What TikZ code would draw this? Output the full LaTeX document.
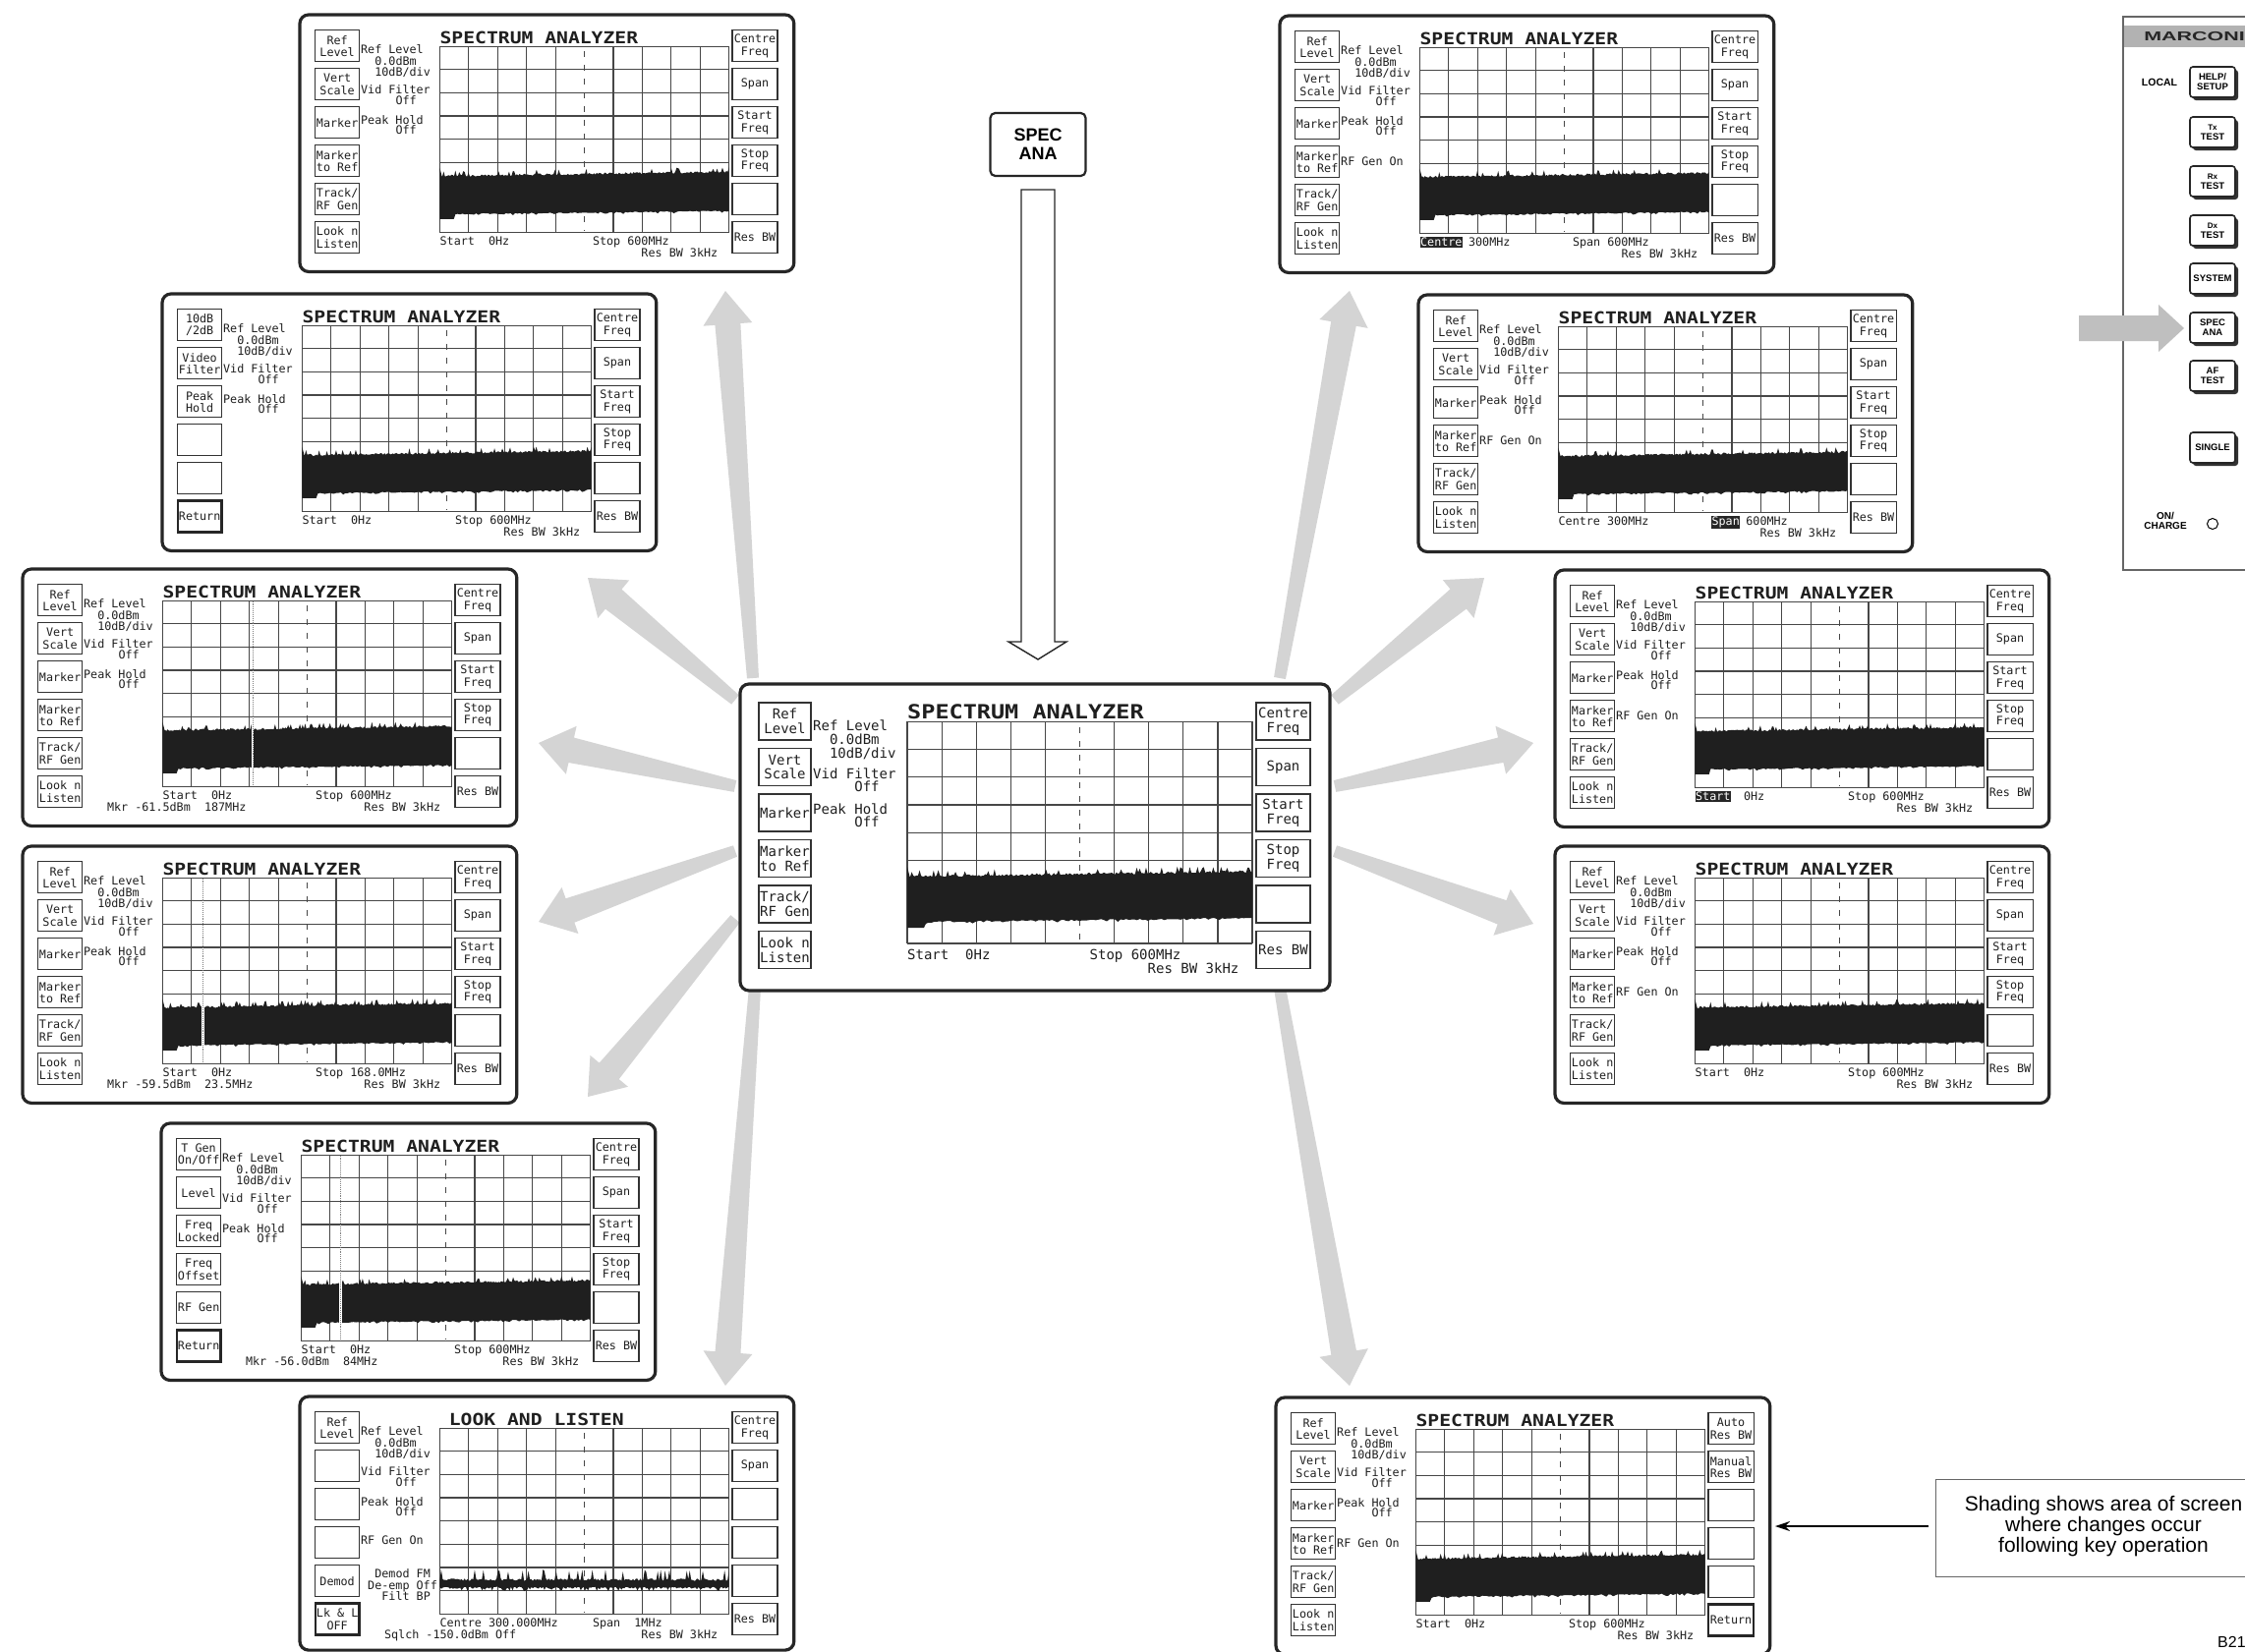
\documentclass[tikz,border=0pt]{standalone}
\usepackage{fontspec}
\setmainfont{Liberation Sans}
\newfontfamily\lcdfont{DejaVu Sans Mono}
\usetikzlibrary{arrows.meta,calc}
\tikzset{
  scr/.style 2 args={shift={#1}, scale=#2, every node/.append style={transform shape}},
  scrframe/.style={line width=3.2pt, rounded corners=9pt, draw=black!85, fill=white},
  keybox/.style={line width=1.1pt, draw=black!80},
  thickkey/.style={line width=2.6pt, draw=black!85},
  gridl/.style={line width=1.2pt, draw=black!72},
  kt/.style={font=\lcdfont\fontsize{14}{14.6}\selectfont, align=center, inner sep=0pt, text=black!88},
  lt/.style={font=\lcdfont\fontsize{14}{14}\selectfont, anchor=base west, inner sep=0pt, text=black!88},
  hl/.style={lt, fill=black!85, text=white, inner xsep=0.6pt, inner ysep=1.6pt},
  tt/.style={font=\lcdfont\bfseries\fontsize{23.5}{23.5}\selectfont, anchor=base west, inner sep=0pt, yscale=0.85, text=black!88},
  gfill/.style={fill=black!17},
  pbtn/.style={draw=black!85, line width=1.6pt, fill=white, rounded corners=3pt},
  pshadow/.style={fill=black!80, rounded corners=3pt},
  btxt/.style={font=\bfseries\fontsize{9.5}{10}\selectfont, align=center, inner sep=0pt},
}
\def\scrH{312}
\newcommand\scrbase{%
  \draw[scrframe] (0,0) rectangle (600,\scrH);
  \foreach \i in {0,...,5}{%
    \draw[keybox] (19,{19+46.5*\i}) rectangle (72,{57+46.5*\i});
    \draw[keybox] (525,{19+46.5*\i}) rectangle (580,{57+46.5*\i});
  }%
  \foreach \i in {0,1,2,3,4,6,7,8,9,10}{%
    \draw[gridl] ({170+35.1*\i},38.4) -- ({170+35.1*\i},264);}%
  \foreach \j in {0,...,8}{%
    \draw[gridl] (170,{38.4+28.2*\j}) -- (521,{38.4+28.2*\j});}%
  \draw[gridl, dash pattern=on 6pt off 8pt] (345.5,44) -- (345.5,262);
}
\newcommand\noiseband{%
  \fill[black!88] (170,248) -- (170,186) -- (172.5,196) -- plot[domain=173:521, samples=220, variable=\t] (\t,{197-5*(\t-170)/351-2.5*rnd-5*(rnd>0.9)}) -- plot[domain=521:189, samples=120, variable=\t] (\t,{241.5-4*(\t-170)/351+1.5*rnd+1.5*(rnd>0.85)}) -- (187,248) -- cycle;}
\newcommand\lltrace{%
  \fill[black!88] plot[domain=170:521, samples=200, variable=\t] (\t,{224-3*rnd-11*(rnd>0.82)}) -- plot[domain=521:170, samples=200, variable=\t] (\t,{231+2.5*rnd+3*(rnd>0.85)}) -- cycle;}
\newcommand\mkr[1]{%
  \draw[white, line width=2.5pt] (#1,186) -- (#1,250);
  \draw[black!50, line width=0.9pt, densely dotted] (#1,39) -- (#1,263);}
\newcommand\lk[2]{\node[kt] at (45.5,{38+46.5*#1}) {#2};}
\newcommand\rk[2]{\node[kt] at (552.5,{38+46.5*#1}) {#2};}
\newcommand\thkl[1]{\draw[thickkey] (19,{19+46.5*#1}) rectangle (72,{57+46.5*#1});}
\newcommand\thkr[1]{\draw[thickkey] (525,{19+46.5*#1}) rectangle (580,{57+46.5*#1});}
\newcommand\lb[3]{\node[lt] at ({74+8.43*#1},#2) {#3};}
\newcommand\bt[3]{\node[lt] at ({170+8.43*#1},#2) {#3};}
\newcommand\hbt[3]{\node[hl] at ({170+8.43*#1},#2) {#3};}
\newcommand\ttl[2][170]{\node[tt] at (#1,35) {#2};}
\newcommand\stdleft{\lk{0}{Ref\\Level}\lk{1}{Vert\\Scale}\lk{2}{Marker}\lk{3}{Marker\\to Ref}\lk{4}{Track/\\RF Gen}\lk{5}{Look n\\Listen}}
\newcommand\stdright{\rk{0}{Centre\\Freq}\rk{1}{Span}\rk{2}{Start\\Freq}\rk{3}{Stop\\Freq}\rk{5}{Res BW}}
\newcommand\stdlabels{\lb{0}{47}{Ref Level}\lb{2}{61}{0.0dBm}\lb{2}{75}{10dB/div}\lb{0}{96.5}{Vid Filter}\lb{5}{109.5}{Off}\lb{0}{132.5}{Peak Hold}\lb{5}{145.5}{Off}}
\newcommand\rfgen{\lb{0}{182.5}{RF Gen On}}
\newcommand\stdbottom{\bt{0}{280}{Start}\bt{7}{280}{0Hz}\bt{22}{280}{Stop 600MHz}\bt{29}{294}{Res BW 3kHz}}
\newcommand\stdscreen{\scrbase\noiseband\ttl{SPECTRUM ANALYZER}\stdleft\stdright\stdlabels}
\newcommand\pbutton[3]{%
  \fill[pshadow] (2231,{#1-13}) rectangle (2277,{#1+18});
  \draw[pbtn] (2228,{#1-16}) rectangle (2274,{#1+15});
  \node[btxt, name=#2] at (2251,{#1-0.5}) {#3};}
\newcommand\garrow[2]{%
  \coordinate (nk) at ($(#2)!34pt!(#1)$);
  \fill[gfill] ($(#1)!6pt!90:(#2)$) -- ($(nk)!13pt!90:(#2)$) -- ($(nk)!25pt!90:(#2)$) -- (#2) -- ($(nk)!25pt!-90:(#2)$) -- ($(nk)!13pt!-90:(#2)$) -- ($(#1)!6pt!-90:(#2)$) -- cycle;}
\begin{document}
\begin{tikzpicture}[x=1pt, y=-1pt]
\pgfmathsetseed{7}
\useasboundingbox (0,0) rectangle (2284,1681);
\fill[white] (0,0) rectangle (2284,1681);
% ---------------- radiating shaded arrows
\coordinate (a1s) at (766,690); \coordinate (a1e) at (738,296);
\coordinate (a2s) at (748,712); \coordinate (a2e) at (598,588);
\coordinate (a3s) at (748,800); \coordinate (a3e) at (548,756);
\coordinate (a4s) at (748,866); \coordinate (a4e) at (548,938);
\coordinate (a5s) at (748,935); \coordinate (a5e) at (598,1116);
\coordinate (a6s) at (768,1005); \coordinate (a6e) at (738,1410);
\coordinate (a7s) at (1302,690); \coordinate (a7e) at (1373,296);
\coordinate (a8s) at (1358,712); \coordinate (a8e) at (1510,588);
\coordinate (a9s) at (1358,800); \coordinate (a9e) at (1560,756);
\coordinate (a10s) at (1358,866); \coordinate (a10e) at (1560,940);
\coordinate (a11s) at (1302,1005); \coordinate (a11e) at (1373,1410);
\foreach \k in {1,...,11}{\garrow{a\k s}{a\k e}}
% ---------------- SPEC ANA key and hollow arrow
\node[name=spec, draw=black!85, line width=2.2pt, rounded corners=5pt, minimum width=97pt, minimum height=64pt, inner sep=0pt, align=center, font=\bfseries\fontsize{18}{19}\selectfont] at (1056,147) {SPEC\\ANA};
\coordinate (hs1) at (1039,193); \coordinate (hs2) at (1073,193);
\draw[line width=1.4pt, fill=white, draw=black!85] (hs1) -- (hs2) -- (1073,653) -- (1085,653) -- (1056,671) -- (1026,653) -- (1039,653) -- cycle;
% ---------------- screens
\begin{scope}[scr={(305,15)}{0.838}]
 \stdscreen\stdbottom
\end{scope}
\begin{scope}[scr={(165,299)}{0.838}]
 \scrbase\noiseband\ttl{SPECTRUM ANALYZER}\stdright\stdlabels\stdbottom
 \lk{0}{10dB\\/2dB}\lk{1}{Video\\Filter}\lk{2}{Peak\\Hold}\thkl{5}\lk{5}{Return}
\end{scope}
\begin{scope}[scr={(23,579)}{0.838}]
 \stdscreen\stdbottom\mkr{279.4}
 \bt{-8}{294}{Mkr -61.5dBm}\bt{6}{294}{187MHz}
\end{scope}
\begin{scope}[scr={(23,861)}{0.838}]
 \stdscreen\mkr{219}
 \bt{0}{280}{Start}\bt{7}{280}{0Hz}\bt{22}{280}{Stop 168.0MHz}\bt{29}{294}{Res BW 3kHz}
 \bt{-8}{294}{Mkr -59.5dBm}\bt{6}{294}{23.5MHz}
\end{scope}
\begin{scope}[scr={(164,1143)}{0.838}]
 \scrbase\noiseband\ttl{SPECTRUM ANALYZER}\stdright\stdlabels\stdbottom\mkr{218}
 \lk{0}{T Gen\\On/Off}\lk{1}{Level}\lk{2}{Freq\\Locked}\lk{3}{Freq\\Offset}\lk{4}{RF Gen}\thkl{5}\lk{5}{Return}
 \bt{-8}{294}{Mkr -56.0dBm}\bt{6}{294}{84MHz}
\end{scope}
\def\scrH{308}
\begin{scope}[scr={(305,1421)}{0.838}]
 \scrbase\lltrace\ttl[181]{LOOK AND LISTEN}\stdlabels
 \lb{0}{179}{RF Gen On}
 \lb{2}{220.6}{Demod FM}\lb{1}{234}{De-emp Off}\lb{3}{248}{Filt BP}
 \lk{0}{Ref\\Level}\lk{4}{Demod}\thkl{5}\lk{5}{Lk \& L\\OFF}
 \rk{0}{Centre\\Freq}\rk{1}{Span}\rk{5}{Res BW}
 \bt{0}{280}{Centre 300.000MHz}\bt{22}{280}{Span}\bt{28}{280}{1MHz}
 \bt{-8}{294}{Sqlch -150.0dBm Off}\bt{29}{294}{Res BW 3kHz}
\end{scope}
\def\scrH{312}
\begin{scope}[scr={(1302,16)}{0.838}]
 \stdscreen\rfgen
 \hbt{0}{280}{Centre}\bt{7}{280}{300MHz}\bt{22}{280}{Span 600MHz}\bt{29}{294}{Res BW 3kHz}
\end{scope}
\begin{scope}[scr={(1443,300)}{0.838}]
 \stdscreen\rfgen
 \bt{0}{280}{Centre 300MHz}\hbt{22}{280}{Span}\bt{27}{280}{600MHz}\bt{29}{294}{Res BW 3kHz}
\end{scope}
\begin{scope}[scr={(1582,580)}{0.838}]
 \stdscreen\rfgen
 \hbt{0}{280}{Start}\bt{7}{280}{0Hz}\bt{22}{280}{Stop 600MHz}\bt{29}{294}{Res BW 3kHz}
\end{scope}
\begin{scope}[scr={(1582,861)}{0.838}]
 \stdscreen\rfgen\stdbottom
\end{scope}
\begin{scope}[scr={(1298,1422)}{0.838}]
 \scrbase\noiseband\ttl{SPECTRUM ANALYZER}\stdleft\stdlabels\rfgen\stdbottom
 \rk{0}{Auto\\Res BW}\rk{1}{Manual\\Res BW}\thkr{5}\rk{5}{Return}
\end{scope}
\begin{scope}[scr={(753,696)}{1}]
 \stdscreen\stdbottom
\end{scope}
% ---------------- Marconi panel
\draw[black!60, line width=1.2pt] (2300,17) -- (2160,17) -- (2160,580) -- (2300,580);
\fill[black!30] (2161,26) rectangle (2300,48);
\node[anchor=west, inner sep=0pt, xscale=1.65, font=\bfseries\fontsize{13}{13}\selectfont, text=black!85] (marconi) at (2181,37.5) {MARCONI};
\node[font=\bfseries\fontsize{10.5}{11}\selectfont, inner sep=0pt] (local) at (2197,84) {LOCAL};
\pbutton{84}{help}{HELP/\\SETUP}
\pbutton{135}{tx}{{\fontsize{8}{8.5}\selectfont Tx}\\TEST}
\pbutton{185}{rx}{{\fontsize{8}{8.5}\selectfont Rx}\\TEST}
\pbutton{235}{dx}{{\fontsize{8}{8.5}\selectfont Dx}\\TEST}
\pbutton{284}{sys}{SYSTEM}
\pbutton{334}{sa}{SPEC\\ANA}
\pbutton{383}{af}{AF\\TEST}
\pbutton{456}{single}{SINGLE}
\node[font=\bfseries\fontsize{10}{10.5}\selectfont, align=center, inner sep=0pt] (onch) at (2203,530) {ON/\\CHARGE};
\draw[line width=1pt] (2251,533) circle (5.5);
\fill[black!25] (2115,321) -- (2196,321) -- (2196,310) -- (2222,334) -- (2196,358) -- (2196,347) -- (2115,347) -- cycle;
% ---------------- legend
\draw[black!60, line width=1pt] (2300,1505) -- (1969,1505) -- (1969,1604) -- (2300,1604);
\node[align=center, font=\fontsize{21}{21}\selectfont, inner sep=0pt] (legend) at (2140,1553) {Shading shows area of screen\\where changes occur\\following key operation};
\coordinate (legtip) at (1806,1553);
\draw[line width=1.6pt, -{Stealth[length=15pt,width=10pt]}] (1962,1553) -- (legtip);
\node[anchor=base west, inner sep=0pt, font=\fontsize{16}{16}\selectfont] (ref) at (2256,1676) {B21};
\end{tikzpicture}
\end{document}
